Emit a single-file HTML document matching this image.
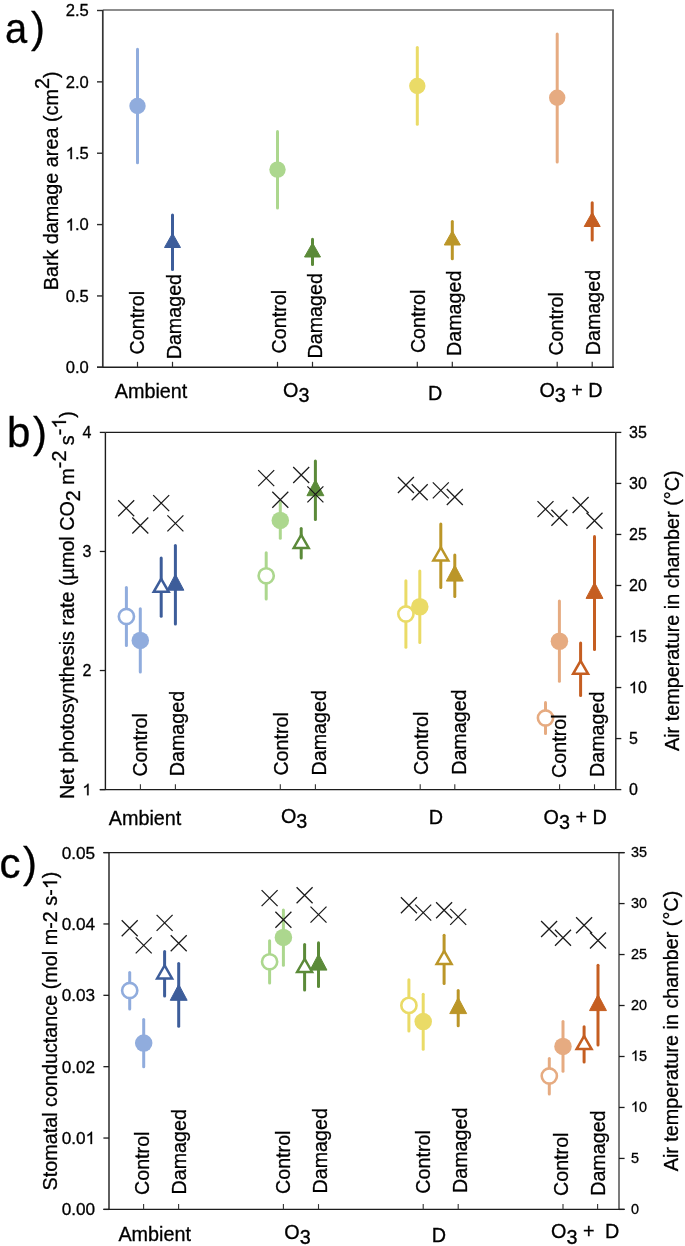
<!DOCTYPE html>
<html><head><meta charset="utf-8"><style>
html,body{margin:0;padding:0;background:#fff;}
svg{display:block;}
text{font-family:"Liberation Sans", sans-serif;fill:#000;stroke:#000;stroke-width:0.3px;}
svg{will-change:transform;}
text{font-kerning:none;}
.h{fill:none;stroke:none;}
</style></head><body>
<svg width="685" height="1246" viewBox="0 0 685 1246">
<rect width="685" height="1246" fill="#fff"/>
<line x1="102.80" y1="10.00" x2="613.90" y2="10.00" stroke="#676767" stroke-width="1.6" stroke-linecap="butt"/>
<line x1="613.00" y1="10.00" x2="613.00" y2="367.30" stroke="#5f5f5f" stroke-width="1.8" stroke-linecap="butt"/>
<line x1="102.80" y1="10.00" x2="102.80" y2="367.30" stroke="#353535" stroke-width="1.7" stroke-linecap="butt"/>
<line x1="97.00" y1="367.30" x2="613.90" y2="367.30" stroke="#1e1e1e" stroke-width="1.4" stroke-linecap="butt"/>
<line x1="97.00" y1="367.30" x2="102.80" y2="367.30" stroke="#2c2c2c" stroke-width="1.4" stroke-linecap="butt"/>
<text x="65.72" y="373.20" font-size="16.6">0.0</text>
<line x1="97.00" y1="295.94" x2="102.80" y2="295.94" stroke="#2c2c2c" stroke-width="1.4" stroke-linecap="butt"/>
<text x="65.72" y="301.84" font-size="16.6">0.5</text>
<line x1="97.00" y1="224.58" x2="102.80" y2="224.58" stroke="#2c2c2c" stroke-width="1.4" stroke-linecap="butt"/>
<path d="M763,0 L583,0 L583,1147 Q518,1085 412.5,1023 Q307,961 212,926 L212,1100 Q380,1179 493,1280.5 Q606,1382 645,1466 L763,1466 Z" transform="translate(65.72,230.48) scale(0.00811,-0.00811)" fill="#000" stroke="#000" stroke-width="37.0"/>
<text x="65.72" y="230.48" font-size="16.6"><tspan class="h">1</tspan>.0</text>
<line x1="97.00" y1="153.22" x2="102.80" y2="153.22" stroke="#2c2c2c" stroke-width="1.4" stroke-linecap="butt"/>
<path d="M763,0 L583,0 L583,1147 Q518,1085 412.5,1023 Q307,961 212,926 L212,1100 Q380,1179 493,1280.5 Q606,1382 645,1466 L763,1466 Z" transform="translate(65.72,159.12) scale(0.00811,-0.00811)" fill="#000" stroke="#000" stroke-width="37.0"/>
<text x="65.72" y="159.12" font-size="16.6"><tspan class="h">1</tspan>.5</text>
<line x1="97.00" y1="81.86" x2="102.80" y2="81.86" stroke="#2c2c2c" stroke-width="1.4" stroke-linecap="butt"/>
<text x="65.72" y="87.76" font-size="16.6">2.0</text>
<line x1="97.00" y1="10.50" x2="102.80" y2="10.50" stroke="#2c2c2c" stroke-width="1.4" stroke-linecap="butt"/>
<text x="65.72" y="16.40" font-size="16.6">2.5</text>
<line x1="137.50" y1="361.80" x2="137.50" y2="367.30" stroke="#2c2c2c" stroke-width="1.2" stroke-linecap="butt"/>
<line x1="172.50" y1="361.80" x2="172.50" y2="367.30" stroke="#2c2c2c" stroke-width="1.2" stroke-linecap="butt"/>
<line x1="277.50" y1="361.80" x2="277.50" y2="367.30" stroke="#2c2c2c" stroke-width="1.2" stroke-linecap="butt"/>
<line x1="312.50" y1="361.80" x2="312.50" y2="367.30" stroke="#2c2c2c" stroke-width="1.2" stroke-linecap="butt"/>
<line x1="417.30" y1="361.80" x2="417.30" y2="367.30" stroke="#2c2c2c" stroke-width="1.2" stroke-linecap="butt"/>
<line x1="452.30" y1="361.80" x2="452.30" y2="367.30" stroke="#2c2c2c" stroke-width="1.2" stroke-linecap="butt"/>
<line x1="557.20" y1="361.80" x2="557.20" y2="367.30" stroke="#2c2c2c" stroke-width="1.2" stroke-linecap="butt"/>
<line x1="592.20" y1="361.80" x2="592.20" y2="367.30" stroke="#2c2c2c" stroke-width="1.2" stroke-linecap="butt"/>
<line x1="137.50" y1="49.30" x2="137.50" y2="162.70" stroke="#90acdd" stroke-width="3" stroke-linecap="round"/>
<circle cx="137.50" cy="106.00" r="8.20" fill="#90acdd"/>
<line x1="172.50" y1="215.00" x2="172.50" y2="269.60" stroke="#3d5d9a" stroke-width="3" stroke-linecap="round"/>
<path d="M172.50,233.40 L180.50,247.50 L164.50,247.50 Z" fill="#3d5d9a" stroke="#3d5d9a" stroke-width="1" stroke-linejoin="miter"/>
<line x1="277.50" y1="131.50" x2="277.50" y2="208.00" stroke="#acd78e" stroke-width="3" stroke-linecap="round"/>
<circle cx="277.50" cy="169.60" r="8.20" fill="#acd78e"/>
<line x1="312.50" y1="239.30" x2="312.50" y2="264.40" stroke="#5b8a39" stroke-width="3" stroke-linecap="round"/>
<path d="M312.50,242.90 L320.50,257.00 L304.50,257.00 Z" fill="#5b8a39" stroke="#5b8a39" stroke-width="1" stroke-linejoin="miter"/>
<line x1="417.30" y1="47.60" x2="417.30" y2="124.20" stroke="#eadb67" stroke-width="3" stroke-linecap="round"/>
<circle cx="417.30" cy="86.00" r="8.20" fill="#eadb67"/>
<line x1="452.30" y1="221.40" x2="452.30" y2="258.70" stroke="#bb9628" stroke-width="3" stroke-linecap="round"/>
<path d="M452.30,230.90 L460.30,245.00 L444.30,245.00 Z" fill="#bb9628" stroke="#bb9628" stroke-width="1" stroke-linejoin="miter"/>
<line x1="557.20" y1="34.10" x2="557.20" y2="162.00" stroke="#e6ab81" stroke-width="3" stroke-linecap="round"/>
<circle cx="557.20" cy="97.80" r="8.20" fill="#e6ab81"/>
<line x1="592.20" y1="202.70" x2="592.20" y2="240.00" stroke="#c55e21" stroke-width="3" stroke-linecap="round"/>
<path d="M592.20,212.40 L600.20,226.50 L584.20,226.50 Z" fill="#c55e21" stroke="#c55e21" stroke-width="1" stroke-linejoin="miter"/>
<text transform="translate(144.30,354.40) rotate(-90)" font-size="19.7" text-anchor="start" >Control</text>
<text transform="translate(180.70,359.30) rotate(-90)" font-size="19.7" text-anchor="start" >Damaged</text>
<text transform="translate(285.50,353.40) rotate(-90)" font-size="19.7" text-anchor="start" >Control</text>
<text transform="translate(321.70,358.50) rotate(-90)" font-size="19.7" text-anchor="start" >Damaged</text>
<text transform="translate(425.40,353.10) rotate(-90)" font-size="19.7" text-anchor="start" >Control</text>
<text transform="translate(461.30,356.00) rotate(-90)" font-size="19.7" text-anchor="start" >Damaged</text>
<text transform="translate(563.20,355.60) rotate(-90)" font-size="19.7" text-anchor="start" >Control</text>
<text transform="translate(600.40,355.20) rotate(-90)" font-size="19.7" text-anchor="start" >Damaged</text>
<text x="114.80" y="397.50" font-size="19.8" text-anchor="start" >Ambient</text>
<text x="283.0" y="396.7" font-size="19.8">O<tspan dy="5.2">3</tspan></text>
<text x="428.00" y="399.70" font-size="19.8" text-anchor="start" >D</text>
<text x="539.4" y="397.1" font-size="19.8">O<tspan dy="5.2">3</tspan><tspan dy="-5.2"> + D</tspan></text>
<text x="4.9" y="42.6" font-size="42" transform="translate(4.9,0) scale(0.95,1) translate(-4.9,0)">a</text>
<text x="30.90" y="42.40" font-size="42" text-anchor="start" >)</text>
<text transform="translate(57.6,290.3) rotate(-90)" font-size="19.8">Bark damage area (cm<tspan dy="-8.7">2</tspan><tspan dy="8.7">)</tspan></text>
<line x1="105.40" y1="432.40" x2="615.80" y2="432.40" stroke="#1c1c1c" stroke-width="1.4" stroke-linecap="butt"/>
<line x1="615.80" y1="432.40" x2="615.80" y2="789.60" stroke="#1c1c1c" stroke-width="1.4" stroke-linecap="butt"/>
<line x1="105.40" y1="432.40" x2="105.40" y2="789.60" stroke="#1c1c1c" stroke-width="1.4" stroke-linecap="butt"/>
<line x1="99.80" y1="789.60" x2="615.80" y2="789.60" stroke="#1c1c1c" stroke-width="1.4" stroke-linecap="butt"/>
<line x1="99.80" y1="789.60" x2="105.40" y2="789.60" stroke="#1c1c1c" stroke-width="1.3" stroke-linecap="butt"/>
<path d="M763,0 L583,0 L583,1147 Q518,1085 412.5,1023 Q307,961 212,926 L212,1100 Q380,1179 493,1280.5 Q606,1382 645,1466 L763,1466 Z" transform="translate(82.60,795.20) scale(0.00781,-0.00781)" fill="#000" stroke="#000" stroke-width="38.4"/>
<text x="82.60" y="795.20" font-size="16"><tspan class="h">1</tspan></text>
<line x1="99.80" y1="670.53" x2="105.40" y2="670.53" stroke="#1c1c1c" stroke-width="1.3" stroke-linecap="butt"/>
<text x="82.60" y="676.13" font-size="16">2</text>
<line x1="99.80" y1="551.47" x2="105.40" y2="551.47" stroke="#1c1c1c" stroke-width="1.3" stroke-linecap="butt"/>
<text x="82.60" y="557.07" font-size="16">3</text>
<line x1="99.80" y1="432.40" x2="105.40" y2="432.40" stroke="#1c1c1c" stroke-width="1.3" stroke-linecap="butt"/>
<text x="82.60" y="438.00" font-size="16">4</text>
<line x1="615.80" y1="789.60" x2="621.30" y2="789.60" stroke="#1c1c1c" stroke-width="1.3" stroke-linecap="butt"/>
<text x="629.00" y="795.20" font-size="16">0</text>
<line x1="615.80" y1="738.57" x2="621.30" y2="738.57" stroke="#1c1c1c" stroke-width="1.3" stroke-linecap="butt"/>
<text x="629.00" y="744.17" font-size="16">5</text>
<line x1="615.80" y1="687.54" x2="621.30" y2="687.54" stroke="#1c1c1c" stroke-width="1.3" stroke-linecap="butt"/>
<path d="M763,0 L583,0 L583,1147 Q518,1085 412.5,1023 Q307,961 212,926 L212,1100 Q380,1179 493,1280.5 Q606,1382 645,1466 L763,1466 Z" transform="translate(629.00,693.14) scale(0.00781,-0.00781)" fill="#000" stroke="#000" stroke-width="38.4"/>
<text x="629.00" y="693.14" font-size="16"><tspan class="h">1</tspan>0</text>
<line x1="615.80" y1="636.51" x2="621.30" y2="636.51" stroke="#1c1c1c" stroke-width="1.3" stroke-linecap="butt"/>
<path d="M763,0 L583,0 L583,1147 Q518,1085 412.5,1023 Q307,961 212,926 L212,1100 Q380,1179 493,1280.5 Q606,1382 645,1466 L763,1466 Z" transform="translate(629.00,642.11) scale(0.00781,-0.00781)" fill="#000" stroke="#000" stroke-width="38.4"/>
<text x="629.00" y="642.11" font-size="16"><tspan class="h">1</tspan>5</text>
<line x1="615.80" y1="585.49" x2="621.30" y2="585.49" stroke="#1c1c1c" stroke-width="1.3" stroke-linecap="butt"/>
<text x="629.00" y="591.09" font-size="16">20</text>
<line x1="615.80" y1="534.46" x2="621.30" y2="534.46" stroke="#1c1c1c" stroke-width="1.3" stroke-linecap="butt"/>
<text x="629.00" y="540.06" font-size="16">25</text>
<line x1="615.80" y1="483.43" x2="621.30" y2="483.43" stroke="#1c1c1c" stroke-width="1.3" stroke-linecap="butt"/>
<text x="629.00" y="489.03" font-size="16">30</text>
<line x1="615.80" y1="432.40" x2="621.30" y2="432.40" stroke="#1c1c1c" stroke-width="1.3" stroke-linecap="butt"/>
<text x="629.00" y="438.00" font-size="16">35</text>
<line x1="140.40" y1="784.30" x2="140.40" y2="789.60" stroke="#333" stroke-width="1.1" stroke-linecap="butt"/>
<line x1="175.40" y1="784.30" x2="175.40" y2="789.60" stroke="#333" stroke-width="1.1" stroke-linecap="butt"/>
<line x1="280.30" y1="784.30" x2="280.30" y2="789.60" stroke="#333" stroke-width="1.1" stroke-linecap="butt"/>
<line x1="315.40" y1="784.30" x2="315.40" y2="789.60" stroke="#333" stroke-width="1.1" stroke-linecap="butt"/>
<line x1="420.20" y1="784.30" x2="420.20" y2="789.60" stroke="#333" stroke-width="1.1" stroke-linecap="butt"/>
<line x1="454.80" y1="784.30" x2="454.80" y2="789.60" stroke="#333" stroke-width="1.1" stroke-linecap="butt"/>
<line x1="559.60" y1="784.30" x2="559.60" y2="789.60" stroke="#333" stroke-width="1.1" stroke-linecap="butt"/>
<line x1="594.50" y1="784.30" x2="594.50" y2="789.60" stroke="#333" stroke-width="1.1" stroke-linecap="butt"/>
<line x1="140.30" y1="608.80" x2="140.30" y2="672.00" stroke="#90acdd" stroke-width="3" stroke-linecap="round"/>
<circle cx="140.30" cy="640.40" r="8.75" fill="#90acdd"/>
<line x1="175.40" y1="545.60" x2="175.40" y2="624.00" stroke="#3d5d9a" stroke-width="3" stroke-linecap="round"/>
<path d="M175.40,574.30 L183.85,590.20 L166.95,590.20 Z" fill="#3d5d9a" stroke="#3d5d9a" stroke-width="1" stroke-linejoin="miter"/>
<line x1="280.30" y1="502.60" x2="280.30" y2="538.30" stroke="#acd78e" stroke-width="3" stroke-linecap="round"/>
<circle cx="280.30" cy="520.40" r="8.75" fill="#acd78e"/>
<line x1="315.40" y1="461.10" x2="315.40" y2="519.40" stroke="#5b8a39" stroke-width="3" stroke-linecap="round"/>
<path d="M315.40,479.80 L323.85,495.70 L306.95,495.70 Z" fill="#5b8a39" stroke="#5b8a39" stroke-width="1" stroke-linejoin="miter"/>
<line x1="419.80" y1="570.90" x2="419.80" y2="642.60" stroke="#eadb67" stroke-width="3" stroke-linecap="round"/>
<circle cx="419.80" cy="606.80" r="8.75" fill="#eadb67"/>
<line x1="454.80" y1="555.00" x2="454.80" y2="596.40" stroke="#bb9628" stroke-width="3" stroke-linecap="round"/>
<path d="M454.80,565.20 L463.25,581.10 L446.35,581.10 Z" fill="#bb9628" stroke="#bb9628" stroke-width="1" stroke-linejoin="miter"/>
<line x1="559.40" y1="601.00" x2="559.40" y2="681.30" stroke="#e6ab81" stroke-width="3" stroke-linecap="round"/>
<circle cx="559.40" cy="641.20" r="8.75" fill="#e6ab81"/>
<line x1="594.50" y1="536.60" x2="594.50" y2="649.50" stroke="#c55e21" stroke-width="3" stroke-linecap="round"/>
<path d="M594.50,582.50 L602.95,598.40 L586.05,598.40 Z" fill="#c55e21" stroke="#c55e21" stroke-width="1" stroke-linejoin="miter"/>
<line x1="126.40" y1="587.50" x2="126.40" y2="645.60" stroke="#90acdd" stroke-width="3" stroke-linecap="round"/>
<circle cx="126.40" cy="616.50" r="7.60" fill="#fff" stroke="#90acdd" stroke-width="2.6"/>
<line x1="161.20" y1="558.00" x2="161.20" y2="616.30" stroke="#3d5d9a" stroke-width="3" stroke-linecap="round"/>
<path d="M161.20,578.81 L168.68,591.85 L153.72,591.85 Z" fill="#fff" stroke="#3d5d9a" stroke-width="2.5" stroke-linejoin="miter"/>
<line x1="266.20" y1="552.70" x2="266.20" y2="598.90" stroke="#acd78e" stroke-width="3" stroke-linecap="round"/>
<circle cx="266.20" cy="575.80" r="7.60" fill="#fff" stroke="#acd78e" stroke-width="2.6"/>
<line x1="301.20" y1="528.60" x2="301.20" y2="558.00" stroke="#5b8a39" stroke-width="3" stroke-linecap="round"/>
<path d="M301.20,534.91 L308.68,547.95 L293.72,547.95 Z" fill="#fff" stroke="#5b8a39" stroke-width="2.5" stroke-linejoin="miter"/>
<line x1="405.90" y1="580.70" x2="405.90" y2="647.20" stroke="#eadb67" stroke-width="3" stroke-linecap="round"/>
<circle cx="405.90" cy="614.00" r="7.60" fill="#fff" stroke="#eadb67" stroke-width="2.6"/>
<line x1="440.80" y1="523.90" x2="440.80" y2="587.60" stroke="#bb9628" stroke-width="3" stroke-linecap="round"/>
<path d="M440.80,547.41 L448.28,560.45 L433.32,560.45 Z" fill="#fff" stroke="#bb9628" stroke-width="2.5" stroke-linejoin="miter"/>
<line x1="545.50" y1="702.50" x2="545.50" y2="733.40" stroke="#e6ab81" stroke-width="3" stroke-linecap="round"/>
<circle cx="545.50" cy="718.00" r="7.60" fill="#fff" stroke="#e6ab81" stroke-width="2.6"/>
<line x1="580.60" y1="643.10" x2="580.60" y2="695.40" stroke="#c55e21" stroke-width="3" stroke-linecap="round"/>
<path d="M580.60,660.81 L588.08,673.85 L573.12,673.85 Z" fill="#fff" stroke="#c55e21" stroke-width="2.5" stroke-linejoin="miter"/>
<path d="M118.20,500.20 L134.20,516.20 M134.20,500.20 L118.20,516.20" stroke="#1a1a1a" stroke-width="1.25" fill="none"/>
<path d="M132.30,517.50 L148.30,533.50 M148.30,517.50 L132.30,533.50" stroke="#1a1a1a" stroke-width="1.25" fill="none"/>
<path d="M153.20,495.10 L169.20,511.10 M169.20,495.10 L153.20,511.10" stroke="#1a1a1a" stroke-width="1.25" fill="none"/>
<path d="M167.40,515.40 L183.40,531.40 M183.40,515.40 L167.40,531.40" stroke="#1a1a1a" stroke-width="1.25" fill="none"/>
<path d="M258.20,470.10 L274.20,486.10 M274.20,470.10 L258.20,486.10" stroke="#1a1a1a" stroke-width="1.25" fill="none"/>
<path d="M272.30,491.80 L288.30,507.80 M288.30,491.80 L272.30,507.80" stroke="#1a1a1a" stroke-width="1.25" fill="none"/>
<path d="M293.20,467.00 L309.20,483.00 M309.20,467.00 L293.20,483.00" stroke="#1a1a1a" stroke-width="1.25" fill="none"/>
<path d="M307.40,486.40 L323.40,502.40 M323.40,486.40 L307.40,502.40" stroke="#1a1a1a" stroke-width="1.25" fill="none"/>
<path d="M397.90,477.00 L413.90,493.00 M413.90,477.00 L397.90,493.00" stroke="#1a1a1a" stroke-width="1.25" fill="none"/>
<path d="M411.70,484.30 L427.70,500.30 M427.70,484.30 L411.70,500.30" stroke="#1a1a1a" stroke-width="1.25" fill="none"/>
<path d="M432.80,482.40 L448.80,498.40 M448.80,482.40 L432.80,498.40" stroke="#1a1a1a" stroke-width="1.25" fill="none"/>
<path d="M446.80,489.00 L462.80,505.00 M462.80,489.00 L446.80,505.00" stroke="#1a1a1a" stroke-width="1.25" fill="none"/>
<path d="M537.50,501.10 L553.50,517.10 M553.50,501.10 L537.50,517.10" stroke="#1a1a1a" stroke-width="1.25" fill="none"/>
<path d="M551.40,509.70 L567.40,525.70 M567.40,509.70 L551.40,525.70" stroke="#1a1a1a" stroke-width="1.25" fill="none"/>
<path d="M572.60,497.00 L588.60,513.00 M588.60,497.00 L572.60,513.00" stroke="#1a1a1a" stroke-width="1.25" fill="none"/>
<path d="M586.50,512.70 L602.50,528.70 M602.50,512.70 L586.50,528.70" stroke="#1a1a1a" stroke-width="1.25" fill="none"/>
<text transform="translate(147.20,776.60) rotate(-90)" font-size="19.7" text-anchor="start" >Control</text>
<text transform="translate(184.00,776.20) rotate(-90)" font-size="19.7" text-anchor="start" >Damaged</text>
<text transform="translate(288.30,775.60) rotate(-90)" font-size="19.7" text-anchor="start" >Control</text>
<text transform="translate(325.50,775.50) rotate(-90)" font-size="19.7" text-anchor="start" >Damaged</text>
<text transform="translate(428.30,775.10) rotate(-90)" font-size="19.7" text-anchor="start" >Control</text>
<text transform="translate(465.60,774.80) rotate(-90)" font-size="19.7" text-anchor="start" >Damaged</text>
<text transform="translate(566.40,777.90) rotate(-90)" font-size="19.7" text-anchor="start" >Control</text>
<text transform="translate(603.60,777.00) rotate(-90)" font-size="19.7" text-anchor="start" >Damaged</text>
<text x="108.80" y="825.20" font-size="19.8" text-anchor="start" >Ambient</text>
<text x="280.9" y="822.8" font-size="19.8">O<tspan dy="5.5">3</tspan></text>
<text x="428.70" y="823.70" font-size="19.8" text-anchor="start" >D</text>
<text x="543.6" y="824.0" font-size="19.8">O<tspan dy="5.2">3</tspan><tspan dy="-5.2"> + D</tspan></text>
<text x="6.90" y="446.80" font-size="42" text-anchor="start" >b</text>
<text x="33.00" y="446.80" font-size="42" text-anchor="start" >)</text>
<g transform="translate(73.5,799.0) rotate(-90)"><text font-size="19.76">Net photosynthesis rate (µmol CO<tspan dy="6.7">2</tspan><tspan dy="-6.7"> m</tspan><tspan dy="-7.5">-2</tspan><tspan dy="7.5"> s</tspan><tspan dy="-7.5">-<tspan class="h">1</tspan></tspan><tspan dy="7.5">)</tspan></text><path d="M763,0 L583,0 L583,1147 Q518,1085 412.5,1023 Q307,961 212,926 L212,1100 Q380,1179 493,1280.5 Q606,1382 645,1466 L763,1466 Z" transform="translate(370.48,-7.50) scale(0.00965,-0.00965)" fill="#000" stroke="#000" stroke-width="31.1"/></g>
<text transform="translate(678.8,751.0) rotate(-90)" font-size="19.8">Air temperature in chamber (°C)</text>
<line x1="619.00" y1="852.60" x2="619.00" y2="1209.40" stroke="#7c7c7c" stroke-width="2.0" stroke-linecap="butt"/>
<line x1="103.40" y1="852.60" x2="624.60" y2="852.60" stroke="#1c1c1c" stroke-width="1.4" stroke-linecap="butt"/>
<line x1="109.00" y1="852.60" x2="109.00" y2="1209.40" stroke="#1c1c1c" stroke-width="1.4" stroke-linecap="butt"/>
<line x1="103.40" y1="1209.40" x2="624.60" y2="1209.40" stroke="#1c1c1c" stroke-width="1.4" stroke-linecap="butt"/>
<line x1="103.40" y1="1209.40" x2="109.00" y2="1209.40" stroke="#1c1c1c" stroke-width="1.3" stroke-linecap="butt"/>
<text x="61.72" y="1215.40" font-size="17.2">0.00</text>
<line x1="103.40" y1="1138.04" x2="109.00" y2="1138.04" stroke="#1c1c1c" stroke-width="1.3" stroke-linecap="butt"/>
<path d="M763,0 L583,0 L583,1147 Q518,1085 412.5,1023 Q307,961 212,926 L212,1100 Q380,1179 493,1280.5 Q606,1382 645,1466 L763,1466 Z" transform="translate(85.63,1144.04) scale(0.00840,-0.00840)" fill="#000" stroke="#000" stroke-width="35.7"/>
<text x="61.72" y="1144.04" font-size="17.2">0.0<tspan class="h">1</tspan></text>
<line x1="103.40" y1="1066.68" x2="109.00" y2="1066.68" stroke="#1c1c1c" stroke-width="1.3" stroke-linecap="butt"/>
<text x="61.72" y="1072.68" font-size="17.2">0.02</text>
<line x1="103.40" y1="995.32" x2="109.00" y2="995.32" stroke="#1c1c1c" stroke-width="1.3" stroke-linecap="butt"/>
<text x="61.72" y="1001.32" font-size="17.2">0.03</text>
<line x1="103.40" y1="923.96" x2="109.00" y2="923.96" stroke="#1c1c1c" stroke-width="1.3" stroke-linecap="butt"/>
<text x="61.72" y="929.96" font-size="17.2">0.04</text>
<line x1="103.40" y1="852.60" x2="109.00" y2="852.60" stroke="#1c1c1c" stroke-width="1.3" stroke-linecap="butt"/>
<text x="61.72" y="858.60" font-size="17.2">0.05</text>
<line x1="619.00" y1="1209.40" x2="624.60" y2="1209.40" stroke="#1c1c1c" stroke-width="1.3" stroke-linecap="butt"/>
<text x="631.00" y="1213.70" font-size="14.4">0</text>
<line x1="619.00" y1="1158.43" x2="624.60" y2="1158.43" stroke="#1c1c1c" stroke-width="1.3" stroke-linecap="butt"/>
<text x="631.00" y="1162.73" font-size="14.4">5</text>
<line x1="619.00" y1="1107.46" x2="624.60" y2="1107.46" stroke="#1c1c1c" stroke-width="1.3" stroke-linecap="butt"/>
<path d="M763,0 L583,0 L583,1147 Q518,1085 412.5,1023 Q307,961 212,926 L212,1100 Q380,1179 493,1280.5 Q606,1382 645,1466 L763,1466 Z" transform="translate(631.00,1111.76) scale(0.00703,-0.00703)" fill="#000" stroke="#000" stroke-width="42.7"/>
<text x="631.00" y="1111.76" font-size="14.4"><tspan class="h">1</tspan>0</text>
<line x1="619.00" y1="1056.49" x2="624.60" y2="1056.49" stroke="#1c1c1c" stroke-width="1.3" stroke-linecap="butt"/>
<path d="M763,0 L583,0 L583,1147 Q518,1085 412.5,1023 Q307,961 212,926 L212,1100 Q380,1179 493,1280.5 Q606,1382 645,1466 L763,1466 Z" transform="translate(631.00,1060.79) scale(0.00703,-0.00703)" fill="#000" stroke="#000" stroke-width="42.7"/>
<text x="631.00" y="1060.79" font-size="14.4"><tspan class="h">1</tspan>5</text>
<line x1="619.00" y1="1005.51" x2="624.60" y2="1005.51" stroke="#1c1c1c" stroke-width="1.3" stroke-linecap="butt"/>
<text x="631.00" y="1009.81" font-size="14.4">20</text>
<line x1="619.00" y1="954.54" x2="624.60" y2="954.54" stroke="#1c1c1c" stroke-width="1.3" stroke-linecap="butt"/>
<text x="631.00" y="958.84" font-size="14.4">25</text>
<line x1="619.00" y1="903.57" x2="624.60" y2="903.57" stroke="#1c1c1c" stroke-width="1.3" stroke-linecap="butt"/>
<text x="631.00" y="907.87" font-size="14.4">30</text>
<line x1="619.00" y1="852.60" x2="624.60" y2="852.60" stroke="#1c1c1c" stroke-width="1.3" stroke-linecap="butt"/>
<text x="631.00" y="856.90" font-size="14.4">35</text>
<line x1="143.60" y1="1204.10" x2="143.60" y2="1209.40" stroke="#333" stroke-width="1.1" stroke-linecap="butt"/>
<line x1="178.60" y1="1204.10" x2="178.60" y2="1209.40" stroke="#333" stroke-width="1.1" stroke-linecap="butt"/>
<line x1="283.40" y1="1204.10" x2="283.40" y2="1209.40" stroke="#333" stroke-width="1.1" stroke-linecap="butt"/>
<line x1="318.50" y1="1204.10" x2="318.50" y2="1209.40" stroke="#333" stroke-width="1.1" stroke-linecap="butt"/>
<line x1="423.20" y1="1204.10" x2="423.20" y2="1209.40" stroke="#333" stroke-width="1.1" stroke-linecap="butt"/>
<line x1="458.20" y1="1204.10" x2="458.20" y2="1209.40" stroke="#333" stroke-width="1.1" stroke-linecap="butt"/>
<line x1="563.00" y1="1204.10" x2="563.00" y2="1209.40" stroke="#333" stroke-width="1.1" stroke-linecap="butt"/>
<line x1="597.60" y1="1204.10" x2="597.60" y2="1209.40" stroke="#333" stroke-width="1.1" stroke-linecap="butt"/>
<line x1="143.70" y1="1019.50" x2="143.70" y2="1066.80" stroke="#90acdd" stroke-width="3" stroke-linecap="round"/>
<circle cx="143.70" cy="1043.10" r="8.75" fill="#90acdd"/>
<line x1="178.70" y1="963.60" x2="178.70" y2="1026.20" stroke="#3d5d9a" stroke-width="3" stroke-linecap="round"/>
<path d="M178.70,984.40 L187.15,1000.30 L170.25,1000.30 Z" fill="#3d5d9a" stroke="#3d5d9a" stroke-width="1" stroke-linejoin="miter"/>
<line x1="283.40" y1="909.90" x2="283.40" y2="965.20" stroke="#acd78e" stroke-width="3" stroke-linecap="round"/>
<circle cx="283.40" cy="937.40" r="8.75" fill="#acd78e"/>
<line x1="318.50" y1="942.80" x2="318.50" y2="986.60" stroke="#5b8a39" stroke-width="3" stroke-linecap="round"/>
<path d="M318.50,954.20 L326.95,970.10 L310.05,970.10 Z" fill="#5b8a39" stroke="#5b8a39" stroke-width="1" stroke-linejoin="miter"/>
<line x1="423.20" y1="994.20" x2="423.20" y2="1049.20" stroke="#eadb67" stroke-width="3" stroke-linecap="round"/>
<circle cx="423.20" cy="1021.60" r="8.75" fill="#eadb67"/>
<line x1="458.20" y1="990.60" x2="458.20" y2="1025.80" stroke="#bb9628" stroke-width="3" stroke-linecap="round"/>
<path d="M458.20,997.70 L466.65,1013.60 L449.75,1013.60 Z" fill="#bb9628" stroke="#bb9628" stroke-width="1" stroke-linejoin="miter"/>
<line x1="563.00" y1="1021.50" x2="563.00" y2="1071.20" stroke="#e6ab81" stroke-width="3" stroke-linecap="round"/>
<circle cx="563.00" cy="1046.40" r="8.75" fill="#e6ab81"/>
<line x1="598.00" y1="965.30" x2="598.00" y2="1045.00" stroke="#c55e21" stroke-width="3" stroke-linecap="round"/>
<path d="M598.00,994.70 L606.45,1010.60 L589.55,1010.60 Z" fill="#c55e21" stroke="#c55e21" stroke-width="1" stroke-linejoin="miter"/>
<line x1="129.70" y1="972.50" x2="129.70" y2="1009.00" stroke="#90acdd" stroke-width="3" stroke-linecap="round"/>
<circle cx="129.70" cy="990.50" r="7.60" fill="#fff" stroke="#90acdd" stroke-width="2.6"/>
<line x1="164.60" y1="951.60" x2="164.60" y2="996.10" stroke="#3d5d9a" stroke-width="3" stroke-linecap="round"/>
<path d="M164.60,965.41 L172.08,978.45 L157.12,978.45 Z" fill="#fff" stroke="#3d5d9a" stroke-width="2.5" stroke-linejoin="miter"/>
<line x1="269.60" y1="940.70" x2="269.60" y2="983.00" stroke="#acd78e" stroke-width="3" stroke-linecap="round"/>
<circle cx="269.60" cy="961.80" r="7.60" fill="#fff" stroke="#acd78e" stroke-width="2.6"/>
<line x1="304.60" y1="944.40" x2="304.60" y2="990.10" stroke="#5b8a39" stroke-width="3" stroke-linecap="round"/>
<path d="M304.60,958.91 L312.08,971.95 L297.12,971.95 Z" fill="#fff" stroke="#5b8a39" stroke-width="2.5" stroke-linejoin="miter"/>
<line x1="408.90" y1="979.80" x2="408.90" y2="1031.10" stroke="#eadb67" stroke-width="3" stroke-linecap="round"/>
<circle cx="408.90" cy="1005.40" r="7.60" fill="#fff" stroke="#eadb67" stroke-width="2.6"/>
<line x1="444.10" y1="935.20" x2="444.10" y2="983.40" stroke="#bb9628" stroke-width="3" stroke-linecap="round"/>
<path d="M444.10,950.91 L451.58,963.95 L436.62,963.95 Z" fill="#fff" stroke="#bb9628" stroke-width="2.5" stroke-linejoin="miter"/>
<line x1="549.30" y1="1058.50" x2="549.30" y2="1093.90" stroke="#e6ab81" stroke-width="3" stroke-linecap="round"/>
<circle cx="549.30" cy="1076.00" r="7.60" fill="#fff" stroke="#e6ab81" stroke-width="2.6"/>
<line x1="584.10" y1="1026.70" x2="584.10" y2="1062.10" stroke="#c55e21" stroke-width="3" stroke-linecap="round"/>
<path d="M584.10,1036.01 L591.58,1049.05 L576.62,1049.05 Z" fill="#fff" stroke="#c55e21" stroke-width="2.5" stroke-linejoin="miter"/>
<path d="M121.70,920.20 L137.70,936.20 M137.70,920.20 L121.70,936.20" stroke="#1a1a1a" stroke-width="1.25" fill="none"/>
<path d="M135.70,937.40 L151.70,953.40 M151.70,937.40 L135.70,953.40" stroke="#1a1a1a" stroke-width="1.25" fill="none"/>
<path d="M156.60,914.90 L172.60,930.90 M172.60,914.90 L156.60,930.90" stroke="#1a1a1a" stroke-width="1.25" fill="none"/>
<path d="M170.70,935.30 L186.70,951.30 M186.70,935.30 L170.70,951.30" stroke="#1a1a1a" stroke-width="1.25" fill="none"/>
<path d="M261.60,890.10 L277.60,906.10 M277.60,890.10 L261.60,906.10" stroke="#1a1a1a" stroke-width="1.25" fill="none"/>
<path d="M275.40,911.80 L291.40,927.80 M291.40,911.80 L275.40,927.80" stroke="#1a1a1a" stroke-width="1.25" fill="none"/>
<path d="M296.60,887.20 L312.60,903.20 M312.60,887.20 L296.60,903.20" stroke="#1a1a1a" stroke-width="1.25" fill="none"/>
<path d="M310.50,906.60 L326.50,922.60 M326.50,906.60 L310.50,922.60" stroke="#1a1a1a" stroke-width="1.25" fill="none"/>
<path d="M400.90,897.20 L416.90,913.20 M416.90,897.20 L400.90,913.20" stroke="#1a1a1a" stroke-width="1.25" fill="none"/>
<path d="M415.20,904.60 L431.20,920.60 M431.20,904.60 L415.20,920.60" stroke="#1a1a1a" stroke-width="1.25" fill="none"/>
<path d="M436.10,902.20 L452.10,918.20 M452.10,902.20 L436.10,918.20" stroke="#1a1a1a" stroke-width="1.25" fill="none"/>
<path d="M450.20,908.90 L466.20,924.90 M466.20,908.90 L450.20,924.90" stroke="#1a1a1a" stroke-width="1.25" fill="none"/>
<path d="M541.10,921.00 L557.10,937.00 M557.10,921.00 L541.10,937.00" stroke="#1a1a1a" stroke-width="1.25" fill="none"/>
<path d="M555.00,929.80 L571.00,945.80 M571.00,929.80 L555.00,945.80" stroke="#1a1a1a" stroke-width="1.25" fill="none"/>
<path d="M576.10,917.30 L592.10,933.30 M592.10,917.30 L576.10,933.30" stroke="#1a1a1a" stroke-width="1.25" fill="none"/>
<path d="M590.00,932.50 L606.00,948.50 M606.00,932.50 L590.00,948.50" stroke="#1a1a1a" stroke-width="1.25" fill="none"/>
<text transform="translate(149.40,1195.00) rotate(-90)" font-size="19.7" text-anchor="start" >Control</text>
<text transform="translate(186.20,1194.50) rotate(-90)" font-size="19.7" text-anchor="start" >Damaged</text>
<text transform="translate(290.20,1194.00) rotate(-90)" font-size="19.7" text-anchor="start" >Control</text>
<text transform="translate(327.30,1193.50) rotate(-90)" font-size="19.7" text-anchor="start" >Damaged</text>
<text transform="translate(430.00,1193.70) rotate(-90)" font-size="19.7" text-anchor="start" >Control</text>
<text transform="translate(467.00,1193.00) rotate(-90)" font-size="19.7" text-anchor="start" >Damaged</text>
<text transform="translate(568.00,1196.00) rotate(-90)" font-size="19.7" text-anchor="start" >Control</text>
<text transform="translate(605.20,1195.80) rotate(-90)" font-size="19.7" text-anchor="start" >Damaged</text>
<text x="118.40" y="1240.90" font-size="19.8" text-anchor="start" >Ambient</text>
<text x="284.3" y="1239.3" font-size="19.8">O<tspan dy="5.1">3</tspan></text>
<text x="431.80" y="1242.20" font-size="19.8" text-anchor="start" >D</text>
<text x="551.1" y="1238.3" font-size="19.8">O<tspan dy="5.3">3</tspan><tspan dy="-5.3"> +</tspan></text>
<text x="605.10" y="1238.30" font-size="19.8" text-anchor="start" >D</text>
<text x="-0.60" y="877.60" font-size="42" text-anchor="start" >c</text>
<text x="23.10" y="877.40" font-size="42" text-anchor="start" >)</text>
<g transform="translate(57.1,1190.5) rotate(-90)"><text font-size="19.8">Stomatal conductance (mol m-2 s-<tspan class="h">1</tspan>)</text><path d="M763,0 L583,0 L583,1147 Q518,1085 412.5,1023 Q307,961 212,926 L212,1100 Q380,1179 493,1280.5 Q606,1382 645,1466 L763,1466 Z" transform="translate(301.51,0.00) scale(0.00967,-0.00967)" fill="#000" stroke="#000" stroke-width="31.0"/></g>
<text transform="translate(677.8,1171.3) rotate(-90)" font-size="19.8">Air temperature in chamber (°C)</text>
</svg></body></html>
